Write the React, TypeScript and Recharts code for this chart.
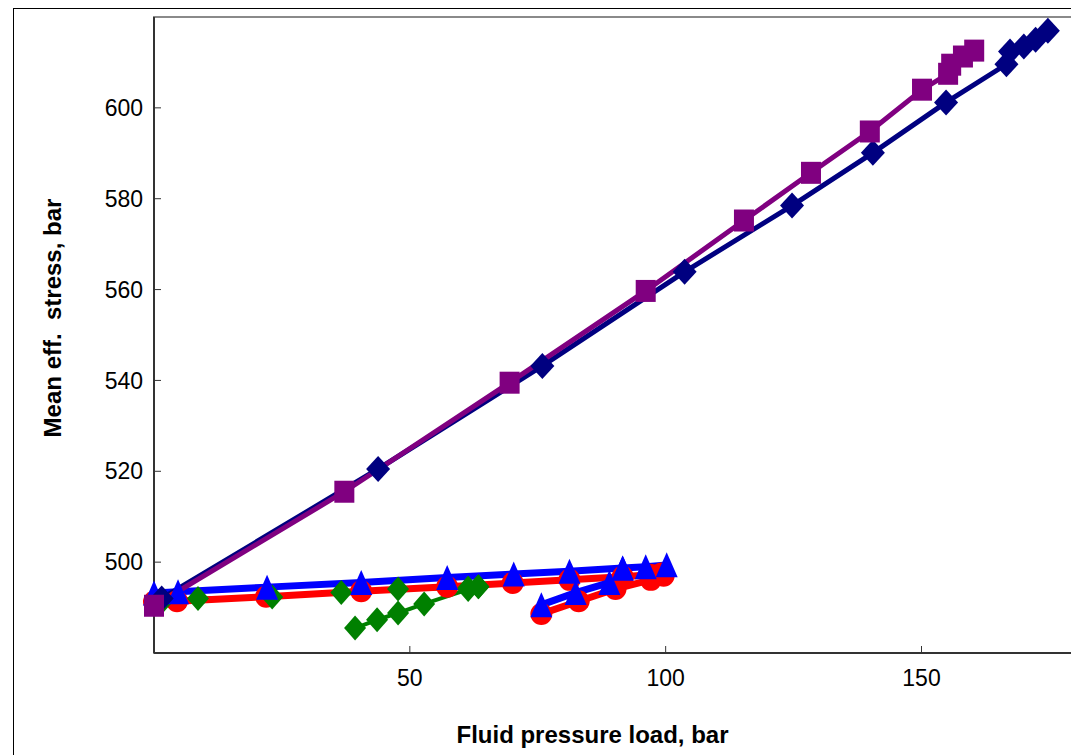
import React from 'react';
import { ComposedChart, Line, XAxis, YAxis, ReferenceArea } from 'recharts';

// ---- Data ----
const navyX = [1.5, 43.8, 75.9, 103.7, 124.7, 140.5, 154.8, 166.6, 167.3, 170.0, 172.3, 174.7];
const navyY = [492.0, 520.5, 543.2, 563.9, 578.5, 590.1, 601.2, 609.6, 612.4, 613.5, 615.0, 617.0];

const purpleX = [0, 37.2, 69.5, 96.1, 115.3, 128.4, 139.9, 150.1, 155.2, 155.8, 158.1, 160.3];
const purpleY = [490.4, 515.5, 539.5, 559.7, 575.2, 585.7, 594.8, 604.0, 607.5, 609.5, 611.3, 612.6];

const redUpperX = [0, 4.5, 21.9, 40.5, 57.3, 70.1, 81.2, 91.6, 97.0, 99.2];
const redUpperY = [491.3, 491.4, 492.4, 493.6, 494.6, 495.4, 496.1, 496.8, 497.2, 497.5];
const redLowerX = [75.7, 83.0, 90.2, 97.1, 99.6];
const redLowerY = [488.6, 491.4, 494.1, 496.1, 497.0];

const blueUpperX = [0, 4.7, 22.1, 40.5, 57.3, 70.3, 81.2, 91.6, 96.1, 100.2];
const blueUpperY = [493.2, 493.5, 494.5, 495.5, 496.6, 497.4, 498.0, 498.7, 499.0, 499.4];
const blueLowerX = [75.7, 82.4, 89.0, 91.6];
const blueLowerY = [490.6, 493.3, 495.5, 498.7];

const greenUpperX = [1.5, 8.6, 23.1, 36.6, 47.7, 61.4, 63.4];
const greenUpperY = [491.2, 492.0, 492.3, 493.3, 494.1, 494.3, 494.6];
const greenLowerX = [39.3, 43.6, 47.7, 52.8, 61.4, 63.4];
const greenLowerY = [485.5, 487.3, 488.8, 490.8, 494.0, 494.6];

const xTicks = [50, 100, 150];
const yTicks = [500, 520, 540, 560, 580, 600];
const xDomain = [0, 180];
const yDomain = [480, 620];

const xTitle = 'Fluid pressure load, bar';
const yTitle = 'Mean eff.\u00A0 stress, bar';

// ---- helpers ----
const toPts = (xs: number[], ys: number[]) => xs.map((x, i) => ({ x, y: ys[i] }));

const navyPts = toPts(navyX, navyY);
const purplePts = toPts(purpleX, purpleY);
const redUpper = toPts(redUpperX, redUpperY);
const redLower = toPts(redLowerX, redLowerY);
const blueUpper = toPts(blueUpperX, blueUpperY);
const blueLower = toPts(blueLowerX, blueLowerY);
const greenUpper = toPts(greenUpperX, greenUpperY);
const greenLower = toPts(greenLowerX, greenLowerY);

const FONT = '"Liberation Sans", Arial, Helvetica, sans-serif';

const NAVY = '#000080';
const PURPLE = '#800080';
const RED = '#FF0000';
const BLUE = '#0000FF';
const GREEN = '#008000';

type DotP = { cx?: number; cy?: number; index?: number };

const diamond = (hw: number, hh: number, color: string, tag: string) => (p: DotP) => {
  const { cx, cy, index } = p;
  if (cx == null || cy == null) return <g key={`${tag}${index}`} />;
  return (
    <path
      key={`${tag}${index}`}
      d={`M${cx},${cy - hh}L${cx + hw},${cy}L${cx},${cy + hh}L${cx - hw},${cy}Z`}
      fill={color}
    />
  );
};

const square = (w: number, h: number, color: string, tag: string) => (p: DotP) => {
  const { cx, cy, index } = p;
  if (cx == null || cy == null) return <g key={`${tag}${index}`} />;
  return <rect key={`${tag}${index}`} x={cx - w / 2} y={cy - h / 2} width={w} height={h} fill={color} />;
};

const circle = (r: number, color: string, tag: string) => (p: DotP) => {
  const { cx, cy, index } = p;
  if (cx == null || cy == null) return <g key={`${tag}${index}`} />;
  return <circle key={`${tag}${index}`} cx={cx} cy={cy} r={r} fill={color} />;
};

const triangle = (hw: number, hh: number, color: string, tag: string) => (p: DotP) => {
  const { cx, cy, index } = p;
  if (cx == null || cy == null) return <g key={`${tag}${index}`} />;
  return (
    <path
      key={`${tag}${index}`}
      d={`M${cx},${cy - hh}L${cx + hw},${cy + hh}L${cx - hw},${cy + hh}Z`}
      fill={color}
    />
  );
};

const lineProps = {
  dataKey: 'y',
  type: 'linear' as const,
  isAnimationActive: false,
  dot: false,
  activeDot: false,
  legendType: 'none' as const,
};

const markerProps = {
  dataKey: 'y',
  type: 'linear' as const,
  isAnimationActive: false,
  activeDot: false,
  stroke: 'none',
  strokeWidth: 0,
  legendType: 'none' as const,
};

const XTitle = (props: any) => {
  const vb = props.viewBox || {};
  const cx = vb.x + vb.width / 2 - 22;
  return (
    <text
      x={cx}
      y={vb.y + 90}
      textAnchor="middle"
      fontFamily={FONT}
      fontWeight="bold"
      fontSize={24}
      fill="#000"
    >
      {xTitle}
    </text>
  );
};

const YTitle = (props: any) => {
  const vb = props.viewBox || {};
  const x = vb.x + 38;
  const y = vb.y + vb.height / 2 - 17;
  return (
    <text
      x={x}
      y={y}
      transform={`rotate(-90, ${x}, ${y})`}
      textAnchor="middle"
      dominantBaseline="central"
      fontFamily={FONT}
      fontWeight="bold"
      fontSize={24}
      fill="#000"
    >
      {yTitle}
    </text>
  );
};

export default function App() {
  return (
    <div
      style={{
        marginLeft: 5,
        borderLeft: '1px solid #000',
        borderTop: '1px solid #000',
        width: 1065,
        height: 746,
        background: '#fff',
      }}
    >
      <ComposedChart
        width={1065}
        height={746}
        margin={{ top: 8, right: 4, left: 0, bottom: 0 }}
        style={{ fontFamily: FONT }}
      >
        <ReferenceArea
          x1={xDomain[0]}
          x2={xDomain[1]}
          y1={yDomain[0]}
          y2={yDomain[1]}
          fill="none"
          stroke="#8a8a8a"
          strokeWidth={2}
          ifOverflow="visible"
        />
        <XAxis
          type="number"
          dataKey="x"
          domain={xDomain}
          ticks={xTicks}
          height={102}
          tickSize={-7}
          tickMargin={24}
          axisLine={{ stroke: '#333', strokeWidth: 2 }}
          tickLine={{ stroke: '#333', strokeWidth: 1 }}
          tick={{ fill: '#000', fontSize: 23, fontFamily: FONT }}
          label={<XTitle />}
        />
        <YAxis
          type="number"
          dataKey="y"
          domain={yDomain}
          ticks={yTicks}
          width={140}
          tickSize={-7}
          tickMargin={18}
          axisLine={{ stroke: '#333', strokeWidth: 2 }}
          tickLine={{ stroke: '#333', strokeWidth: 1 }}
          tick={{ fill: '#000', fontSize: 23, fontFamily: FONT }}
          label={<YTitle />}
        />

        {/* lines */}
        <Line {...lineProps} data={greenUpper} stroke={GREEN} strokeWidth={4} />
        <Line {...lineProps} data={greenLower} stroke={GREEN} strokeWidth={4} />
        <Line {...lineProps} data={redUpper} stroke={RED} strokeWidth={7} />
        <Line {...lineProps} data={redLower} stroke={RED} strokeWidth={7} />
        <Line {...lineProps} data={blueUpper} stroke={BLUE} strokeWidth={7} />
        <Line {...lineProps} data={blueLower} stroke={BLUE} strokeWidth={7} />
        <Line {...lineProps} data={navyPts} stroke={NAVY} strokeWidth={5} />
        <Line {...lineProps} data={purplePts} stroke={PURPLE} strokeWidth={5} />

        {/* markers */}
        <Line {...markerProps} data={redUpper} dot={circle(11, RED, 'ru')} />
        <Line {...markerProps} data={redLower} dot={circle(11, RED, 'rl')} />
        <Line {...markerProps} data={greenUpper} dot={diamond(11, 12.5, GREEN, 'gu')} />
        <Line {...markerProps} data={greenLower} dot={diamond(11, 12.5, GREEN, 'gl')} />
        <Line {...markerProps} data={blueUpper} dot={triangle(11, 12.5, BLUE, 'bu')} />
        <Line {...markerProps} data={blueLower} dot={triangle(11, 12.5, BLUE, 'bl')} />
        <Line {...markerProps} data={navyPts} dot={diamond(12, 13, NAVY, 'nv')} />
        <Line {...markerProps} data={purplePts} dot={square(20, 22, PURPLE, 'pp')} />
      </ComposedChart>
    </div>
  );
}
